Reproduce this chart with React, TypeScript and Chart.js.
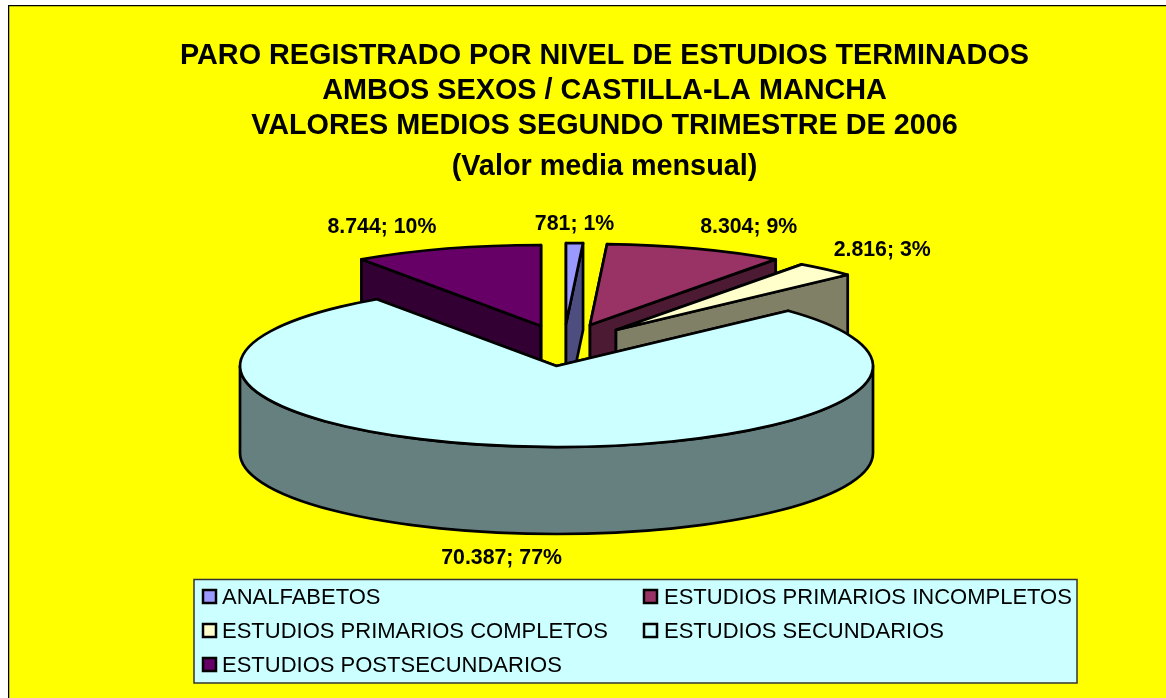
import React, { useEffect, useRef } from "react";
import { Chart, registerables } from "chart.js";

Chart.register(...registerables);

const categories = [
  "ANALFABETOS",
  "ESTUDIOS PRIMARIOS INCOMPLETOS",
  "ESTUDIOS PRIMARIOS COMPLETOS",
  "ESTUDIOS SECUNDARIOS",
  "ESTUDIOS POSTSECUNDARIOS",
];
const paroValues = [781, 8304, 2816, 70387, 8744];
const sliceColors = ["#9999FF", "#993366", "#FFFFCC", "#CCFFFF", "#660066"];
const titleLines = [
  "PARO REGISTRADO POR NIVEL DE ESTUDIOS TERMINADOS",
  "AMBOS SEXOS / CASTILLA-LA MANCHA",
  "VALORES MEDIOS SEGUNDO TRIMESTRE DE 2006",
];
const subtitleLine = "(Valor media mensual)";

// Layout of the tilted, exploded pie (canvas origin is page 8,5)
const FONT = '"Liberation Sans", Arial, sans-serif';
const SQUASH = 0.256;
const DEPTH = 87;
const LINE = 2.7;
const PIE_SHIFT_X = -48;
const explode = [
  [9.5, -42],
  [33.5, -41],
  [59.5, -36],
  [0, 0],
  [-15.5, -40],
];
const labelNudge = [
  [0, -19],
  [53, -22],
  [56.5, -19],
  [-20.5, 25],
  [-65, -22],
];

const darken = (hex: string) => {
  const n = parseInt(hex.slice(1), 16);
  const c = (s: number) => Math.round(((n >> s) & 255) / 2);
  return `rgb(${c(16)},${c(8)},${c(0)})`;
};
const formatEs = (v: number) => String(v).replace(/\B(?=(\d{3})+$)/g, ".");

const pie3d = {
  id: "pie3d",
  beforeDraw(chart: any) {
    const { ctx, width, height } = chart;
    ctx.save();
    ctx.fillStyle = "#FFFF00";
    ctx.fillRect(0, 0, width, height);
    ctx.strokeStyle = "#000";
    ctx.lineWidth = 1.5;
    ctx.beginPath();
    ctx.moveTo(0.5, height);
    ctx.lineTo(0.5, 0.5);
    ctx.lineTo(width, 0.5);
    ctx.stroke();
    ctx.restore();
  },
  beforeDatasetDraw(chart: any) {
    const { ctx } = chart;
    const arcs = chart.getDatasetMeta(0).data;
    const order = arcs
      .map((a: any, i: number) => ({ a, i }))
      .sort(
        (p: any, q: any) =>
          Math.sin((p.a.startAngle + p.a.endAngle) / 2) -
          Math.sin((q.a.startAngle + q.a.endAngle) / 2)
      );
    ctx.save();
    ctx.lineWidth = LINE;
    ctx.strokeStyle = "#000";
    ctx.lineJoin = "round";
    for (const { a, i } of order) {
      const cx = a.x + PIE_SHIFT_X + explode[i][0];
      const cy = a.y + explode[i][1];
      const R = a.outerRadius;
      const r = R * SQUASH;
      const wall = darken(sliceColors[i]);
      ctx.fillStyle = wall;
      for (const ang of [a.startAngle, a.endAngle]) {
        const px = cx + R * Math.cos(ang);
        const py = cy + r * Math.sin(ang);
        ctx.beginPath();
        ctx.moveTo(cx, cy);
        ctx.lineTo(px, py);
        ctx.lineTo(px, py + DEPTH);
        ctx.lineTo(cx, cy + DEPTH);
        ctx.closePath();
        ctx.fill();
        ctx.stroke();
      }
      const w0 = Math.max(a.startAngle, 0);
      const w1 = Math.min(a.endAngle, Math.PI);
      if (w1 > w0) {
        ctx.beginPath();
        ctx.ellipse(cx, cy, R, r, 0, w0, w1);
        ctx.ellipse(cx, cy + DEPTH, R, r, 0, w1, w0, true);
        ctx.closePath();
        ctx.fill();
        ctx.stroke();
      }
      ctx.save();
      ctx.translate(cx, cy);
      ctx.scale(1, SQUASH);
      ctx.translate(-a.x, -a.y);
      a.draw(ctx);
      ctx.restore();
      ctx.beginPath();
      ctx.moveTo(cx, cy);
      ctx.ellipse(cx, cy, R, r, 0, a.startAngle, a.endAngle);
      ctx.closePath();
      ctx.stroke();
    }
    ctx.restore();
    return false;
  },
  afterDraw(chart: any) {
    const { ctx } = chart;
    const arcs = chart.getDatasetMeta(0).data;
    const values: number[] = chart.data.datasets[0].data;
    const total = values.reduce((s, v) => s + v, 0);
    ctx.save();
    ctx.fillStyle = "#000";
    ctx.textBaseline = "middle";
    ctx.textAlign = "center";
    ctx.font = `bold 21.3px ${FONT}`;
    arcs.forEach((a: any, i: number) => {
      const mid = (a.startAngle + a.endAngle) / 2;
      const x =
        a.x + PIE_SHIFT_X + explode[i][0] + a.outerRadius * Math.cos(mid) + labelNudge[i][0];
      const front = Math.sin(mid) > 0 ? DEPTH : 0;
      const y =
        a.y + explode[i][1] + a.outerRadius * SQUASH * Math.sin(mid) + front + labelNudge[i][1];
      ctx.fillText(`${formatEs(values[i])}; ${Math.round((values[i] / total) * 100)}%`, x, y);
    });

    // legend box
    ctx.fillStyle = "#CCFFFF";
    ctx.strokeStyle = "#333";
    ctx.lineWidth = 1.5;
    ctx.fillRect(186, 574.5, 883, 103.5);
    ctx.strokeRect(186, 574.5, 883, 103.5);
    ctx.textAlign = "left";
    ctx.font = `22px ${FONT}`;
    categories.forEach((name, i) => {
      const col = i % 2;
      const row = Math.floor(i / 2);
      const sx = col ? 636 : 195;
      const tx = col ? 656 : 214;
      const yy = 592 + row * 34;
      ctx.fillStyle = sliceColors[i];
      ctx.strokeStyle = "#000";
      ctx.lineWidth = 2.5;
      ctx.fillRect(sx, yy - 7, 13, 13);
      ctx.strokeRect(sx, yy - 7, 13, 13);
      ctx.fillStyle = "#000";
      ctx.fillText(name, tx, yy + 1);
    });
    ctx.restore();
  },
};

export default function App() {
  const ref = useRef<HTMLCanvasElement>(null);
  useEffect(() => {
    const font = { family: FONT, size: 28.8, weight: "bold" as const, lineHeight: 35 / 28.8 };
    const chart = new Chart(ref.current!, {
      type: "pie",
      data: {
        labels: categories,
        datasets: [{ data: paroValues, backgroundColor: sliceColors, borderWidth: 0 }],
      },
      options: {
        responsive: false,
        animation: false,
        rotation: 0,
        layout: { padding: { left: 0, right: 0, top: 0, bottom: 15.5 } },
        plugins: {
          legend: { display: false },
          tooltip: { enabled: false },
          title: {
            display: true,
            text: titleLines,
            color: "#000",
            font,
            padding: { top: 33.5, bottom: -118.5 },
          },
          subtitle: {
            display: true,
            text: subtitleLine,
            color: "#000",
            font,
            padding: { top: 124.5, bottom: -135 },
          },
        },
      },
      plugins: [pie3d],
    } as any);
    return () => chart.destroy();
  }, []);
  return (
    <div style={{ position: "fixed", inset: 0, overflow: "hidden", background: "#fff" }}>
      <canvas
        ref={ref}
        width={1193}
        height={693}
        style={{ position: "absolute", left: 8, top: 5, display: "block" }}
      />
    </div>
  );
}
